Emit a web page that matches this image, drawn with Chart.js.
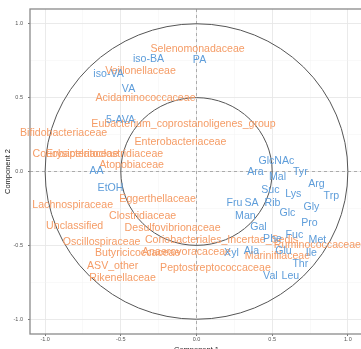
<!DOCTYPE html>
<html>
<head>
<meta charset="utf-8">
<script src="https://cdn.jsdelivr.net/npm/chart.js@4.4.1/dist/chart.umd.min.js"></script>
<style>
  html, body { margin: 0; padding: 0; overflow: hidden; background: #fff; }
  #wrap { width: 364px; height: 358px; }
</style>
</head>
<body>
<div id="wrap"><canvas id="chart" width="364" height="358"></canvas></div>
<script>
// bacterial families (orange labels)
const familyNames = [
  "Selenomonadaceae", "Veillonellaceae", "Acidaminococcaceae",
  "Eubacterium_coprostanoligenes_group", "Bifidobacteriaceae", "Enterobacteriaceae",
  "Coriobacteriaceae", "Erysipelatoclostridiaceae", "Atopobiaceae", "Eggerthellaceae",
  "Lachnospiraceae", "Clostridiaceae", "Unclassified", "Desulfovibrionaceae",
  "Oscillospiraceae", "Coriobacteriales_Incertae_Sedis", "Butyricicoccaceae",
  "Anaerovoracaceae", "Peptostreptococcaceae", "ASV_other", "Rikenellaceae",
  "Ruminococcaceae", "Marinifilaceae"
];
const familyX = [0.007, -0.370, -0.337, -0.086, -0.878, -0.106, -0.799, -0.607, -0.429, -0.257,
  -0.818, -0.356, -0.805, -0.158, -0.627, 0.165, -0.389, -0.066, 0.125, -0.554, -0.488,
  0.799, 0.535];
const familyY = [0.831, 0.682, 0.500, 0.324, 0.257, 0.196, 0.115, 0.115, 0.041, -0.189,
  -0.230, -0.304, -0.372, -0.385, -0.480, -0.466, -0.554, -0.547, -0.655, -0.642, -0.723,
  -0.500, -0.574];

// metabolites (blue labels)
const metabNames = [
  "iso-BA", "PA", "iso-VA", "VA", "5-AVA", "AA", "EtOH", "GlcNAc", "Ara", "Mal", "Tyr",
  "Suc", "Arg", "Lys", "Trp", "Fru", "SA", "Rib", "Gly", "Man", "Glc", "Pro", "Gal",
  "Fuc", "Met", "Phe", "Xyl", "Ala", "Glu", "Ile", "Thr", "Val", "Leu"
];
const metabX = [-0.317, 0.020, -0.581, -0.449, -0.502, -0.660, -0.568, 0.528, 0.389, 0.535, 0.686,
  0.488, 0.792, 0.640, 0.891, 0.251, 0.363, 0.502, 0.759, 0.323, 0.601, 0.746, 0.409,
  0.647, 0.799, 0.502, 0.231, 0.363, 0.574, 0.759, 0.686, 0.488, 0.620];
const metabY = [0.764, 0.757, 0.662, 0.561, 0.351, 0.000, -0.115, 0.068, -0.007, -0.041, -0.007,
  -0.128, -0.088, -0.155, -0.169, -0.216, -0.216, -0.216, -0.243, -0.304, -0.284, -0.351, -0.378,
  -0.432, -0.466, -0.459, -0.554, -0.541, -0.541, -0.554, -0.628, -0.709, -0.709];

const tickValues = [-1, -0.75, -0.5, -0.25, 0, 0.25, 0.5, 0.75, 1];
const circleRadii = [1, 0.5];

const FONT = '"Liberation Sans", Arial, sans-serif';
const ORANGE = '#F59C66';
const BLUE = '#5E9DDA';

function isMajor(v) {
  return Math.abs(v * 2 - Math.round(v * 2)) < 1e-6;
}

function toPoints(xs, ys) {
  return xs.map((x, i) => ({ x: x, y: ys[i] }));
}

// circles, dashed zero lines, panel border
const panelPlugin = {
  id: 'panel',
  beforeDatasetsDraw(chart) {
    const c = chart.ctx, a = chart.chartArea;
    const sx = chart.scales.x, sy = chart.scales.y;
    const cx = sx.getPixelForValue(0), cy = sy.getPixelForValue(0);
    c.save();
    c.strokeStyle = '#9a9a9a';
    c.lineWidth = 0.8;
    c.setLineDash([3, 3]);
    c.beginPath();
    c.moveTo(a.left, cy); c.lineTo(a.right, cy);
    c.moveTo(cx, a.top); c.lineTo(cx, a.bottom);
    c.stroke();
    c.setLineDash([]);
    c.strokeStyle = '#555';
    c.lineWidth = 1;
    circleRadii.forEach(r => {
      const rx = sx.getPixelForValue(r) - cx;
      const ry = cy - sy.getPixelForValue(r);
      c.beginPath();
      c.ellipse(cx, cy, rx, ry, 0, 0, Math.PI * 2);
      c.stroke();
    });
    c.strokeStyle = '#8a8a8a';
    c.lineWidth = 1.3;
    c.strokeRect(a.left, a.top, a.right - a.left, a.bottom - a.top);
    c.restore();
  },
  afterDatasetsDraw(chart) {
    const c = chart.ctx;
    c.save();
    c.font = '10.6px ' + FONT;
    c.textAlign = 'center';
    c.textBaseline = 'middle';
    chart.data.datasets.forEach((ds, i) => {
      const meta = chart.getDatasetMeta(i);
      c.fillStyle = ds.textColor;
      meta.data.forEach((el, j) => {
        c.fillText(ds.names[j], el.x, el.y);
      });
    });
    // axis titles
    const a = chart.chartArea;
    c.fillStyle = '#1a1a1a';
    c.font = '7.5px ' + FONT;
    c.fillText('Component 1', (a.left + a.right) / 2, 350);
    c.translate(8, (a.top + a.bottom) / 2);
    c.rotate(-Math.PI / 2);
    c.fillText('Component 2', 0, 0);
    c.restore();
  }
};

function axis(isX) {
  return {
    type: 'linear',
    min: -1.1,
    max: 1.1,
    afterBuildTicks: s => { s.ticks = tickValues.map(v => ({ value: v })); },
    afterFit: s => { if (isX) s.height = 24; else s.width = 30; },
    ticks: {
      autoSkip: false,
      maxRotation: 0,
      padding: isX ? 0 : 5,
      color: '#555',
      font: { family: FONT, size: 5.5 },
      callback: v => isMajor(v) ? v.toFixed(1) : ''
    },
    grid: {
      color: ctx => isMajor(ctx.tick.value) ? '#e8e8e8' : '#f3f3f3',
      lineWidth: ctx => isMajor(ctx.tick.value) ? 0.9 : 0.5,
      drawTicks: true,
      tickLength: 2,
      tickColor: ctx => isMajor(ctx.tick.value) ? '#666' : 'rgba(0,0,0,0)'
    },
    border: { display: false }
  };
}

const ctx = document.getElementById('chart').getContext('2d');
new Chart(ctx, {
  type: 'scatter',
  data: {
    datasets: [
      {
        label: 'Family',
        data: toPoints(familyX, familyY),
        names: familyNames,
        textColor: ORANGE,
        pointRadius: 0
      },
      {
        label: 'Metabolite',
        data: toPoints(metabX, metabY),
        names: metabNames,
        textColor: BLUE,
        pointRadius: 0
      }
    ]
  },
  options: {
    responsive: false,
    animation: false,
    layout: { padding: { left: 0, top: 9, right: 1, bottom: 0 } },
    plugins: { legend: { display: false }, tooltip: { enabled: false } },
    scales: { x: axis(true), y: axis(false) }
  },
  plugins: [panelPlugin]
});
</script>
</body>
</html>
